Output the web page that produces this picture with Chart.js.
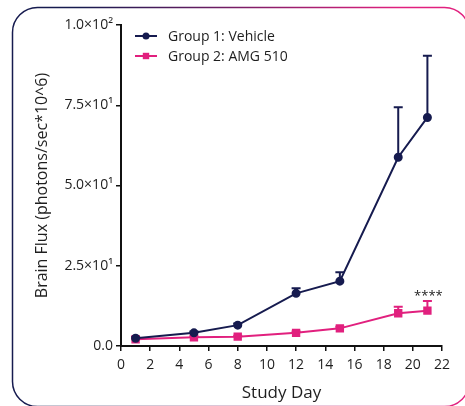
<!DOCTYPE html>
<html>
<head>
<meta charset="utf-8">
<script src="https://cdn.jsdelivr.net/npm/chart.js@4/dist/chart.umd.min.js"></script>
<style>
  html, body { margin: 0; padding: 0; background: #ffffff; }
  #wrap { position: relative; width: 465px; height: 406px; }
</style>
</head>
<body>
<div id="wrap"><canvas id="chart" width="465" height="406"></canvas></div>
<script>
// Study days and mean brain flux (photons/sec*10^6) per group, with upper SEM
const studyDays = [1, 5, 8, 12, 15, 19, 21];
const vehicleMean = [2.4, 4.1, 6.5, 16.4, 20.2, 58.8, 71.2];
const vehicleErr = [0.4, 0.4, 0.5, 1.6, 2.8, 15.6, 19.2];
const amgMean = [2.1, 2.7, 2.9, 4.1, 5.5, 10.2, 11.0];
const amgErr = [0.2, 0.3, 0.3, 0.4, 0.5, 2.0, 3.0];

const seriesNames = ['Group 1: Vehicle', 'Group 2: AMG 510'];
const yTickValues = [0, 25, 50, 75, 100];
const yTickLabels = ['0.0', '2.5×10¹', '5.0×10¹', '7.5×10¹', '1.0×10²'];
const xTickValues = [0, 2, 4, 6, 8, 10, 12, 14, 16, 18, 20, 22];
const significanceLabel = '****';

const NAVY = '#161b4f';
const PINK = '#e1207e';
const INK = '#1e1e1e';
const FONT = '"Open Sans", "Liberation Sans", sans-serif';

const toPoints = (vals) => vals.map((v, i) => ({ x: studyDays[i], y: v }));

// Rounded card border with navy-to-pink gradient
const cardFrame = {
  id: 'cardFrame',
  beforeDraw(chart) {
    const ctx = chart.ctx;
    const x = 12.5, y = 7.5, w = 457, h = 399, r = 25;
    const g = ctx.createLinearGradient(80, 0, 400, 0);
    g.addColorStop(0, NAVY);
    g.addColorStop(1, PINK);
    ctx.save();
    ctx.strokeStyle = g;
    ctx.lineWidth = 1.5;
    ctx.beginPath();
    ctx.moveTo(x + r, y);
    ctx.lineTo(x + w - r, y);
    ctx.arcTo(x + w, y, x + w, y + r, r);
    ctx.lineTo(x + w, y + h - r);
    ctx.arcTo(x + w, y + h, x + w - r, y + h, r);
    ctx.lineTo(x + r, y + h);
    ctx.arcTo(x, y + h, x, y + h - r, r);
    ctx.lineTo(x, y + r);
    ctx.arcTo(x, y, x + r, y, r);
    ctx.closePath();
    ctx.stroke();
    ctx.restore();
  }
};

// Upper error bars (mean + SEM) drawn behind the markers
const errorBars = {
  id: 'errorBars',
  beforeDatasetsDraw(chart) {
    const ctx = chart.ctx;
    const xs = chart.scales.x, ys = chart.scales.y;
    chart.data.datasets.forEach((ds) => {
      ctx.save();
      ctx.strokeStyle = ds.borderColor;
      ctx.lineWidth = 2;
      ds.data.forEach((p, i) => {
        const px = xs.getPixelForValue(p.x);
        const y0 = ys.getPixelForValue(p.y);
        const y1 = ys.getPixelForValue(p.y + ds.errUp[i]);
        ctx.beginPath();
        ctx.moveTo(px, y0);
        ctx.lineTo(px, y1);
        ctx.moveTo(px - 4.5, y1);
        ctx.lineTo(px + 4.5, y1);
        ctx.stroke();
      });
      ctx.restore();
    });
  },
  afterDatasetsDraw(chart) {
    // significance marker above the last AMG 510 point
    const ctx = chart.ctx;
    const ds = chart.data.datasets[1];
    const last = ds.data.length - 1;
    const px = chart.scales.x.getPixelForValue(ds.data[last].x);
    const py = chart.scales.y.getPixelForValue(ds.data[last].y + ds.errUp[last]);
    ctx.save();
    ctx.fillStyle = '#222';
    ctx.font = '13px ' + FONT;
    ctx.textAlign = 'center';
    ctx.textBaseline = 'alphabetic';
    ctx.fillText(significanceLabel, px + 1, py - 1);
    ctx.restore();
  }
};

// Legend: line sample with marker, then the series name
const lineLegend = {
  id: 'lineLegend',
  afterDraw(chart) {
    const ctx = chart.ctx;
    const x0 = 135, x1 = 157, tx = 168;
    const rows = [36, 56];
    chart.data.datasets.forEach((ds, i) => {
      const y = rows[i];
      ctx.save();
      ctx.strokeStyle = ds.borderColor;
      ctx.lineWidth = 2;
      ctx.beginPath();
      ctx.moveTo(x0, y);
      ctx.lineTo(x1, y);
      ctx.stroke();
      ctx.fillStyle = ds.borderColor;
      const cx = (x0 + x1) / 2;
      if (ds.pointStyle === 'rect') {
        ctx.fillRect(cx - 3.2, y - 3.2, 6.4, 6.4);
      } else {
        ctx.beginPath();
        ctx.arc(cx, y, 3.5, 0, Math.PI * 2);
        ctx.fill();
      }
      ctx.fillStyle = INK;
      ctx.font = '14px ' + FONT;
      ctx.textBaseline = 'middle';
      ctx.fillText(ds.label, tx, y + 1);
      ctx.restore();
    });
  }
};

new Chart(document.getElementById('chart'), {
  type: 'line',
  data: {
    datasets: [
      {
        label: seriesNames[0],
        data: toPoints(vehicleMean),
        errUp: vehicleErr,
        borderColor: NAVY,
        backgroundColor: NAVY,
        borderWidth: 2,
        pointStyle: 'circle',
        pointRadius: 3.5,
        pointHoverRadius: 3.5,
        tension: 0
      },
      {
        label: seriesNames[1],
        data: toPoints(amgMean),
        errUp: amgErr,
        borderColor: PINK,
        backgroundColor: PINK,
        borderWidth: 2,
        pointStyle: 'rect',
        pointRadius: 4.5,
        pointHoverRadius: 4.5,
        tension: 0
      }
    ]
  },
  options: {
    responsive: false,
    animation: false,
    events: [],
    layout: { padding: { top: 25, right: 23, left: 0, bottom: 0 } },
    plugins: { legend: { display: false }, tooltip: { enabled: false } },
    scales: {
      x: {
        type: 'linear',
        min: 0, max: 22,
        afterFit(scale) { scale.height = 60; },
        afterBuildTicks(scale) { scale.ticks = xTickValues.map(v => ({ value: v })); },
        border: { display: true, color: '#111', width: 2 },
        grid: { display: true, drawOnChartArea: false, drawTicks: true, tickLength: 5, color: '#111', lineWidth: 1.5 },
        ticks: { color: INK, padding: 6, font: { family: FONT, size: 14 }, maxRotation: 0 },
        title: { display: true, text: 'Study Day', color: INK, font: { family: FONT, size: 17 }, padding: { top: 0, bottom: 3 } }
      },
      y: {
        min: 0, max: 100,
        afterFit(scale) { scale.width = 121; },
        afterBuildTicks(scale) { scale.ticks = yTickValues.map(v => ({ value: v })); },
        border: { display: true, color: '#111', width: 2 },
        grid: { display: true, drawOnChartArea: false, drawTicks: true, tickLength: 5, color: '#111', lineWidth: 1.5 },
        ticks: {
          color: INK, padding: 3, font: { family: FONT, size: 14 },
          callback: (v) => yTickLabels[yTickValues.indexOf(v)]
        },
        title: { display: true, text: 'Brain Flux (photons/sec*10^6)', color: INK, font: { family: FONT, size: 16 }, padding: { top: 33, bottom: 0 } }
      }
    }
  },
  plugins: [cardFrame, errorBars, lineLegend]
});
</script>
</body>
</html>
